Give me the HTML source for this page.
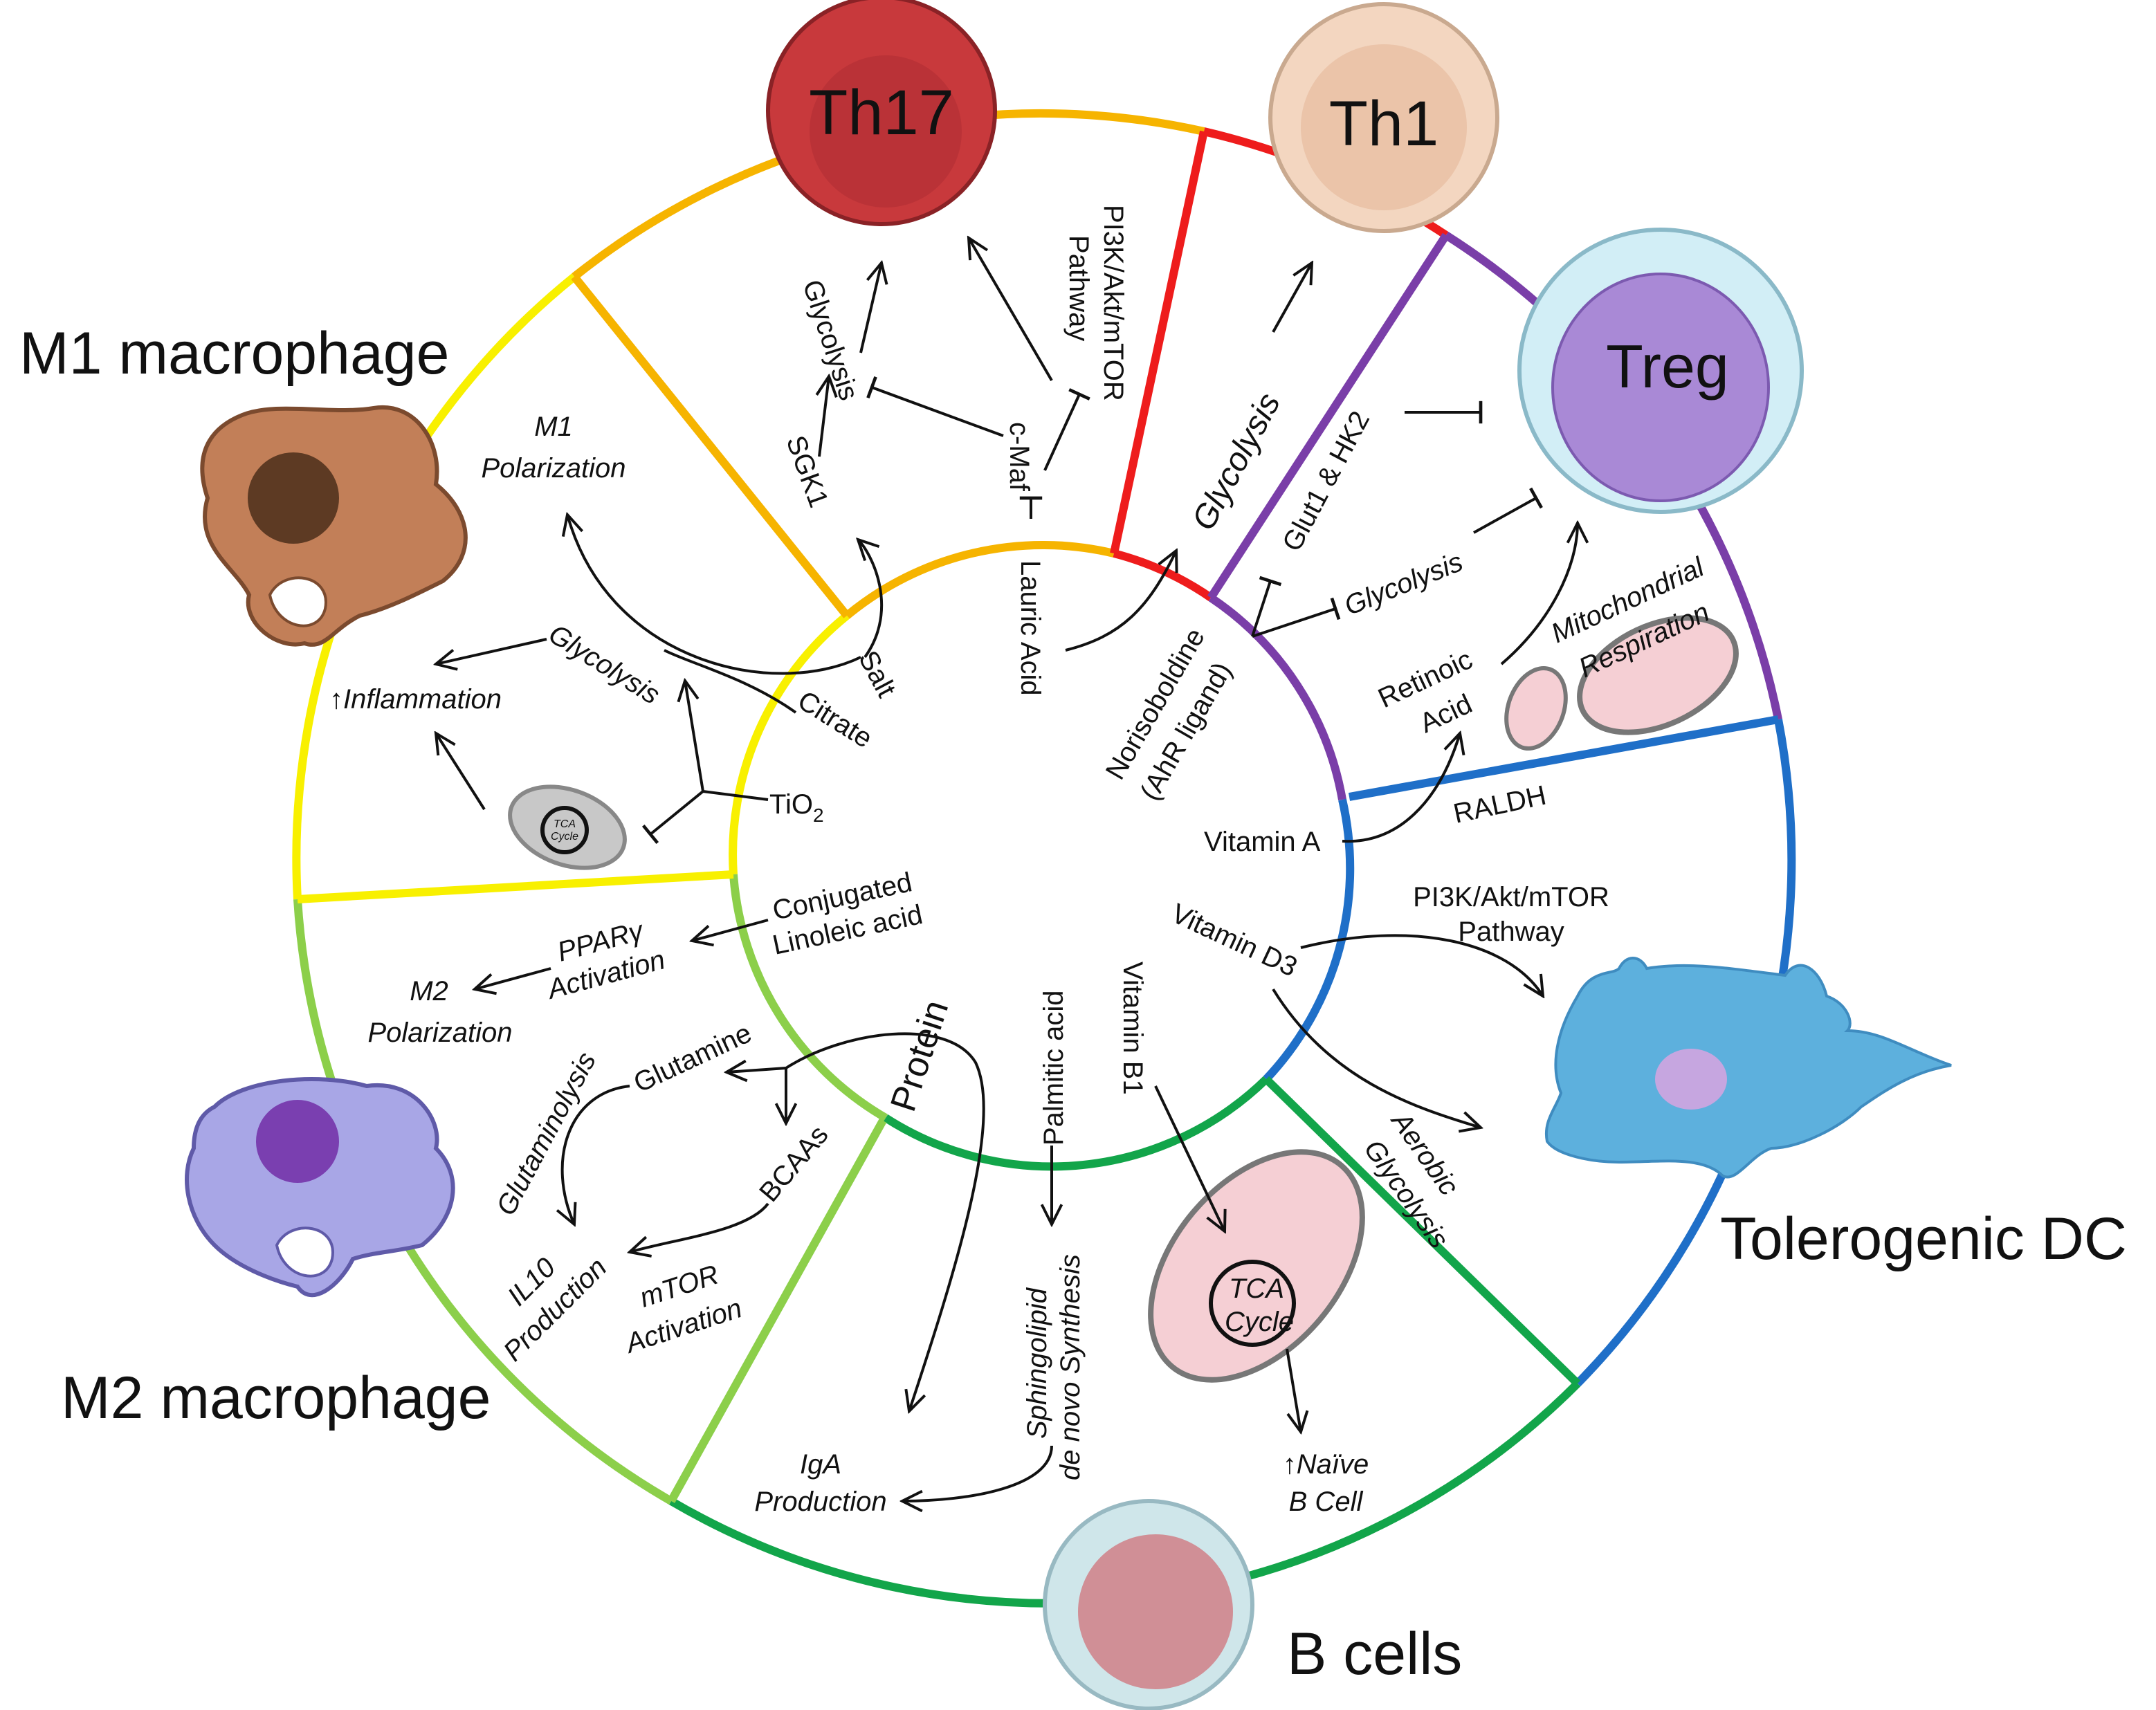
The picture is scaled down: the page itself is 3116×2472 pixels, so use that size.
<!DOCTYPE html>
<html><head><meta charset="utf-8"><style>
html,body{margin:0;padding:0;background:#fff;}
svg{display:block;}
text{font-family:"Liberation Sans",Arial,sans-serif;fill:#111;}
.s{font-size:20px;}
.i{font-style:italic;}
</style></head><body>
<svg width="3116" height="2472" viewBox="0 0 1558 1236" xmlns="http://www.w3.org/2000/svg">
<defs>
<marker id="a" viewBox="0 0 20 20" refX="18" refY="10" markerWidth="18" markerHeight="18" markerUnits="userSpaceOnUse" orient="auto"><path d="M2 2 L18 10 L2 18" fill="none" stroke="#111" stroke-width="2.2"/></marker>
<marker id="b" viewBox="0 0 20 20" refX="2" refY="10" markerWidth="18" markerHeight="18" markerUnits="userSpaceOnUse" orient="auto"><path d="M18 2 L2 10 L18 18" fill="none" stroke="#111" stroke-width="2.2"/></marker>
<marker id="t" viewBox="0 0 20 20" refX="10" refY="10" markerWidth="18" markerHeight="18" markerUnits="userSpaceOnUse" orient="auto"><path d="M10 1 L10 19" stroke="#111" stroke-width="2.6"/></marker>
</defs>
<g fill="none" stroke-width="6">
<path d="M215 650 A540 540 0 0 1 415 200" stroke="#f8f000"/>
<path d="M415 200 A540 540 0 0 1 870 95" stroke="#f6b400"/>
<path d="M870 95 A540 540 0 0 1 1045 170" stroke="#ee1c1c"/>
<path d="M1045 170 A540 540 0 0 1 1285 520" stroke="#7a3ea8"/>
<path d="M1285 520 A540 540 0 0 1 1140 1000" stroke="#1f6fc8"/>
<path d="M1140 1000 A540 540 0 0 1 485 1085" stroke="#12a54a"/>
<path d="M485 1085 A540 540 0 0 1 215 650" stroke="#8ccf4a"/>
<path d="M530 632 A222 222 0 0 1 612 445" stroke="#f8f000"/>
<path d="M612 445 A222 222 0 0 1 805 400" stroke="#f6b400"/>
<path d="M805 400 A222 222 0 0 1 875 432" stroke="#ee1c1c"/>
<path d="M875 432 A222 222 0 0 1 970 578" stroke="#7a3ea8"/>
<path d="M970 578 A222 222 0 0 1 915 780" stroke="#1f6fc8"/>
<path d="M915 780 A222 222 0 0 1 640 808" stroke="#12a54a"/>
<path d="M640 808 A222 222 0 0 1 530 632" stroke="#8ccf4a"/>
<path d="M415 200 L612 445" stroke="#f6b400"/>
<path d="M870 95 L805 400" stroke="#ee1c1c"/>
<path d="M1045 170 L875 432" stroke="#7a3ea8"/>
<path d="M1285 520 L975 576" stroke="#1f6fc8"/>
<path d="M1140 1000 L915 780" stroke="#12a54a"/>
<path d="M485 1085 L638 810" stroke="#8ccf4a"/>
<path d="M215 650 L530 632" stroke="#f8f000"/>
</g>

<circle cx="637" cy="80" r="82" fill="#c8393c" stroke="#8a2226" stroke-width="3"/>
<circle cx="640" cy="95" r="55" fill="#b02f33" opacity=".6"/>
<text x="637" y="97" font-size="46" text-anchor="middle">Th17</text>
<circle cx="1000" cy="85" r="82" fill="#f3d6c0" stroke="#c9a98f" stroke-width="3"/>
<circle cx="1000" cy="92" r="60" fill="#e7bc9f" opacity=".7"/>
<text x="1000" y="105" font-size="46" text-anchor="middle">Th1</text>
<circle cx="1200" cy="268" r="102" fill="#d2eef6" stroke="#8ab9c8" stroke-width="3"/>
<ellipse cx="1200" cy="280" rx="78" ry="82" fill="#a989d6" stroke="#7c5ab0" stroke-width="2"/>
<text x="1205" y="280" font-size="44" text-anchor="middle">Treg</text>
<path d="M1140 720 C1150 700 1165 705 1170 700 C1175 690 1185 690 1190 700 C1220 695 1250 700 1290 705 C1300 690 1315 700 1320 720 C1335 725 1340 740 1335 745 C1360 745 1380 760 1410 770 C1380 775 1360 790 1345 800 C1330 815 1300 830 1280 830 C1265 835 1255 855 1245 850 C1230 835 1200 840 1170 840 C1150 840 1125 835 1118 825 C1115 810 1125 800 1128 790 C1120 770 1125 745 1140 720Z" fill="#5db0dd" stroke="#3f8cc0" stroke-width="2"/>
<ellipse cx="1222" cy="780" rx="26" ry="22" fill="#c6a6e0"/>
<circle cx="830" cy="1160" r="75" fill="#cfe6ea" stroke="#98b9c2" stroke-width="3"/>
<circle cx="835" cy="1165" r="56" fill="#d08f96"/>
<path d="M175 300 C200 290 240 300 270 295 C300 290 320 320 315 350 C340 370 345 400 320 420 C300 430 280 440 260 445 C240 455 235 470 220 465 C200 470 175 450 180 430 C170 410 140 395 150 360 C140 330 150 310 175 300Z" fill="#c27f58" stroke="#7b4a2e" stroke-width="3"/>
<circle cx="212" cy="360" r="33" fill="#5d3a23"/>
<path d="M195 430 C205 410 240 415 235 440 C230 460 200 455 195 430Z" fill="#fff" stroke="#7b4a2e" stroke-width="2"/>
<path d="M155 800 C175 780 230 775 265 785 C300 780 320 810 315 830 C335 850 330 880 305 900 C285 905 270 905 255 910 C245 930 225 945 215 930 C195 925 170 915 155 900 C135 880 130 850 140 830 C140 815 145 805 155 800Z" fill="#a8a6e6" stroke="#5f5aa8" stroke-width="3"/>
<circle cx="215" cy="825" r="30" fill="#7a3fb0"/>
<path d="M200 900 C210 880 245 885 240 910 C235 930 205 925 200 900Z" fill="#fff" stroke="#5f5aa8" stroke-width="2"/>
<ellipse cx="410" cy="598" rx="43" ry="27" fill="#c8c8c8" stroke="#888" stroke-width="3" transform="rotate(20 410 598)"/>
<circle cx="408" cy="600" r="16" fill="none" stroke="#111" stroke-width="3"/>
<text x="408" y="598" font-size="8" text-anchor="middle" class="i">TCA</text><text x="408" y="607" font-size="8" text-anchor="middle" class="i">Cycle</text>
<ellipse cx="908" cy="915" rx="95" ry="60" fill="#f5cfd4" stroke="#777" stroke-width="4" transform="rotate(-50 908 915)"/>
<circle cx="905" cy="942" r="30" fill="none" stroke="#111" stroke-width="3"/>
<text x="908" y="938" font-size="20" text-anchor="middle" class="i">TCA</text><text x="910" y="962" font-size="20" text-anchor="middle" class="i">Cycle</text>
<ellipse cx="1110" cy="512" rx="20" ry="30" fill="#f5cfd4" stroke="#777" stroke-width="3" transform="rotate(20 1110 512)"/>
<ellipse cx="1198" cy="488" rx="60" ry="36" fill="#f5cfd4" stroke="#777" stroke-width="4" transform="rotate(-25 1198 488)"/>

<text x="14" y="270" font-size="43">M1 macrophage</text>
<text x="44" y="1025" font-size="43">M2 macrophage</text>
<text x="1243" y="910" font-size="43">Tolerogenic DC</text>
<text x="930" y="1210" font-size="43">B cells</text>

<g fill="none" stroke="#111" stroke-width="2">
<path d="M622 255 L637 190" marker-end="url(#a)"/>
<path d="M592 330 L599 272" marker-end="url(#a)"/>
<path d="M625 475 C650 440 630 400 620 390" marker-end="url(#a)"/>
<path d="M760 275 L700 172" marker-end="url(#a)"/>
<path d="M725 315 L630 280" marker-end="url(#t)"/>
<path d="M755 340 L780 285" marker-end="url(#t)"/>
<path d="M745 375 L745 360" marker-end="url(#t)"/>
<path d="M770 470 C810 460 830 440 850 398" marker-end="url(#a)"/>
<path d="M920 240 L948 190" marker-end="url(#a)"/>
<path d="M1015 298 L1070 298" marker-end="url(#t)"/>
<path d="M1065 385 L1110 360" marker-end="url(#t)"/>
<path d="M905 460 L918 420" marker-end="url(#t)"/>
<path d="M905 460 L965 440" marker-end="url(#t)"/>
<path d="M1085 480 C1120 450 1140 410 1140 378" marker-end="url(#a)"/>
<path d="M970 608 C1010 610 1040 580 1055 530" marker-end="url(#a)"/>
<path d="M940 685 C1020 665 1090 680 1115 720" marker-end="url(#a)"/>
<path d="M920 715 C960 780 1020 800 1070 815" marker-end="url(#a)"/>
<path d="M835 785 L885 890" marker-end="url(#a)"/>
<path d="M760 828 L760 885" marker-end="url(#a)"/>
<path d="M930 975 L940 1035" marker-end="url(#a)"/>
<path d="M760 1045 C760 1075 700 1085 652 1085" marker-end="url(#a)"/>
<path d="M657 1020 C690 920 725 810 705 768 C685 735 610 745 568 772" marker-start="url(#b)"/>
<path d="M568 772 L525 775" marker-end="url(#a)"/>
<path d="M568 772 L568 812" marker-end="url(#a)"/>
<path d="M555 772 L555 772"/>
<path d="M395 462 L315 480" marker-end="url(#a)"/>
<path d="M622 475 C560 505 440 480 410 372" marker-end="url(#a)"/>
<path d="M575 515 C540 490 500 480 480 470"/>
<path d="M555 578 L508 572 L495 492" marker-end="url(#a)"/>
<path d="M508 572 L470 603" marker-end="url(#t)"/>
<path d="M350 585 L315 530" marker-end="url(#a)"/>
<path d="M555 665 L500 680" marker-end="url(#a)"/>
<path d="M398 700 L343 715" marker-end="url(#a)"/>
<path d="M455 785 C410 790 395 840 415 885" marker-end="url(#a)"/>
<path d="M555 870 C540 890 490 895 455 905" marker-end="url(#a)"/>
</g>

<g class="s">
<text x="400" y="315" class="i" text-anchor="middle">M1</text>
<text x="400" y="345" class="i" text-anchor="middle">Polarization</text>
<text x="238" y="512" class="i">↑Inflammation</text>
<text transform="translate(395 462) rotate(32)" class="i">Glycolysis</text>
<text transform="translate(575 510) rotate(32)">Citrate</text>
<text x="556" y="588">TiO<tspan font-size="14" dy="6">2</tspan></text>
<text transform="translate(620 475) rotate(62)">Salt</text>
<text transform="translate(568 318) rotate(70)">SGK1</text>
<text transform="translate(580 205) rotate(72)">Glycolysis</text>
<text transform="translate(798 148) rotate(90)">PI3K/Akt/mTOR</text>
<text transform="translate(773 170) rotate(90)">Pathway</text>
<text transform="translate(730 305) rotate(90)">c-Maf</text>
<text transform="translate(738 405) rotate(90)">Lauric Acid</text>
<text transform="translate(875 385) rotate(-62)" font-size="24" class="i">Glycolysis</text>
<text transform="translate(938 400) rotate(-62)">Glut1 &amp; HK2</text>
<text transform="translate(975 445) rotate(-22)" class="i">Glycolysis</text>
<text transform="translate(810 565) rotate(-60)">Norisoboldine</text>
<text transform="translate(835 580) rotate(-60)">(AhR ligand)</text>
<text transform="translate(1125 465) rotate(-25)" class="i">Mitochondrial</text>
<text transform="translate(1145 490) rotate(-25)" class="i">Respiration</text>
<text transform="translate(1000 512) rotate(-25)">Retinoic</text>
<text transform="translate(1030 530) rotate(-25)">Acid</text>
<text x="870" y="615">Vitamin A</text>
<text transform="translate(1052 595) rotate(-12)">RALDH</text>
<text x="1092" y="655" text-anchor="middle">PI3K/Akt/mTOR</text>
<text x="1092" y="680" text-anchor="middle">Pathway</text>
<text transform="translate(845 665) rotate(25)">Vitamin D3</text>
<text transform="translate(1005 810) rotate(55)" class="i">Aerobic</text>
<text transform="translate(985 830) rotate(55)" class="i">Glycolysis</text>
<text transform="translate(812 695) rotate(90)">Vitamin B1</text>
<text transform="translate(768 828) rotate(-90)">Palmitic acid</text>
<text transform="translate(660 805) rotate(-72)" font-size="26">Protein</text>
<text transform="translate(756 1040) rotate(-90)" class="i">Sphingolipid</text>
<text transform="translate(780 1070) rotate(-90)" class="i">de novo Synthesis</text>
<text x="593" y="1065" class="i" text-anchor="middle">IgA</text>
<text x="593" y="1092" class="i" text-anchor="middle">Production</text>
<text x="958" y="1065" class="i" text-anchor="middle">↑Naïve</text>
<text x="958" y="1092" class="i" text-anchor="middle">B Cell</text>
<text transform="translate(560 665) rotate(-12)">Conjugated</text>
<text transform="translate(560 690) rotate(-12)">Linoleic acid</text>
<text transform="translate(405 695) rotate(-15)" class="i">PPARγ</text>
<text transform="translate(398 722) rotate(-15)" class="i">Activation</text>
<text x="310" y="723" class="i" text-anchor="middle">M2</text>
<text x="318" y="753" class="i" text-anchor="middle">Polarization</text>
<text transform="translate(462 790) rotate(-25)">Glutamine</text>
<text transform="translate(370 880) rotate(-62)" class="i">Glutaminolysis</text>
<text transform="translate(558 870) rotate(-50)">BCAAs</text>
<text transform="translate(375 945) rotate(-45)" class="i">IL10</text>
<text transform="translate(372 985) rotate(-45)" class="i">Production</text>
<text transform="translate(465 945) rotate(-18)" class="i">mTOR</text>
<text transform="translate(455 978) rotate(-18)" class="i">Activation</text>
</g>
</svg>
</body></html>
